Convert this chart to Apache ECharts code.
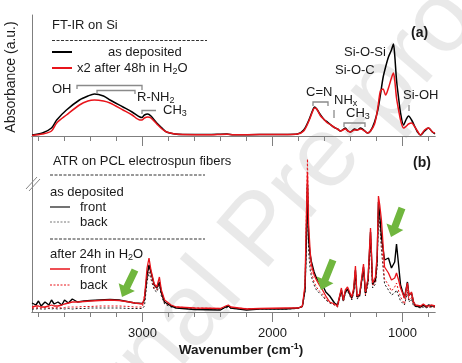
<!DOCTYPE html>
<html><head><meta charset="utf-8">
<script src="https://cdn.jsdelivr.net/npm/echarts@6/dist/echarts.min.js"></script>
<style>html,body{margin:0;padding:0;background:#fff}#c{width:462px;height:363px}</style>
</head><body><div id="c"></div>
<script>
// ---------- Panel (a): FT-IR on Si ----------
const wnA = [3850,3770,3700,3660,3585,3485,3420,3370,3300,3250,3150,3080,3020,3005,2985,2960,2935,2890,2850,2815,2750,2690,2500,2350,2300,2100,1900,1808,1760,1720,1690,1677,1660,1630,1600,1577,1550,1530,1500,1477,1440,1420,1400,1370,1350,1323,1290,1270,1246,1215,1190,1170,1150,1130,1108,1085,1070,1060,1046,1030,1015,992,970,954,930,900,885,862,830,800,770,750];
const ftirAsDeposited = [0.01,0.03,0.08,0.16,0.26,0.36,0.40,0.42,0.40,0.36,0.29,0.24,0.19,0.185,0.21,0.22,0.20,0.13,0.08,0.04,0.02,0.015,0.015,0.02,0.012,0.015,0.016,0.02,0.06,0.16,0.26,0.29,0.27,0.21,0.16,0.14,0.11,0.09,0.07,0.05,0.08,0.05,0.04,0.07,0.06,0.08,0.05,0.03,0.05,0.14,0.26,0.41,0.58,0.69,0.79,0.86,0.92,0.81,0.56,0.38,0.23,0.11,0.17,0.20,0.16,0.08,0.04,0.01,0.05,0.08,0.04,0.02];
const ftirAfter48h = [0.005,0.02,0.05,0.13,0.21,0.31,0.35,0.36,0.35,0.33,0.26,0.21,0.16,0.16,0.18,0.19,0.18,0.12,0.07,0.04,0.02,0.015,0.012,0.018,0.012,0.014,0.015,0.02,0.05,0.15,0.25,0.28,0.27,0.20,0.16,0.13,0.11,0.09,0.07,0.05,0.07,0.05,0.04,0.06,0.06,0.07,0.05,0.03,0.05,0.12,0.28,0.45,0.47,0.41,0.48,0.58,0.63,0.56,0.38,0.26,0.16,0.08,0.10,0.12,0.13,0.08,0.05,0.01,0.06,0.08,0.04,0.03];

// ---------- Panel (b): ATR on PCL electrospun fibers ----------
const wnB = [3850,3820,3800,3780,3750,3720,3700,3680,3650,3620,3600,3570,3540,3500,3450,3400,3330,3250,3180,3100,3060,3000,2985,2965,2950,2935,2910,2890,2870,2855,2830,2780,2740,2600,2400,2360,2340,2320,2200,2100,1900,1800,1770,1750,1740,1731,1722,1710,1700,1680,1662,1640,1615,1590,1560,1545,1523,1500,1485,1470,1455,1440,1423,1408,1390,1375,1362,1350,1330,1300,1285,1265,1246,1230,1208,1195,1185,1175,1162,1138,1108,1085,1060,1046,1030,1015,985,962,950,931,915,900,860,840,820,800,780,750];
const atrFrontAsDep = [0.09,0.07,0.11,0.06,0.10,0.07,0.12,0.08,0.10,0.07,0.12,0.09,0.13,0.10,0.11,0.115,0.12,0.125,0.12,0.10,0.09,0.085,0.12,0.37,0.47,0.40,0.27,0.24,0.30,0.20,0.10,0.06,0.04,0.025,0.02,0.05,0.06,0.04,0.02,0.03,0.03,0.04,0.06,0.22,0.72,1.27,0.72,0.57,0.50,0.40,0.34,0.30,0.27,0.20,0.16,0.14,0.09,0.07,0.05,0.22,0.12,0.20,0.23,0.25,0.14,0.22,0.42,0.15,0.17,0.45,0.19,0.32,0.80,0.28,0.32,0.52,1.10,0.97,0.75,0.52,0.54,0.44,0.50,0.68,0.47,0.27,0.14,0.30,0.17,0.19,0.10,0.06,0.05,0.07,0.05,0.07,0.06,0.06];
const atrBackAsDep = [0.03,0.03,0.035,0.03,0.03,0.035,0.03,0.035,0.03,0.035,0.03,0.035,0.03,0.035,0.035,0.04,0.04,0.04,0.04,0.035,0.035,0.035,0.06,0.30,0.40,0.33,0.22,0.20,0.27,0.16,0.08,0.05,0.04,0.03,0.03,0.04,0.05,0.035,0.03,0.03,0.03,0.035,0.05,0.20,0.60,1.05,0.60,0.42,0.35,0.27,0.22,0.19,0.16,0.12,0.09,0.08,0.07,0.05,0.04,0.20,0.10,0.19,0.21,0.23,0.12,0.20,0.40,0.13,0.15,0.42,0.16,0.29,0.72,0.24,0.28,0.45,0.98,0.88,0.62,0.28,0.22,0.17,0.19,0.22,0.16,0.11,0.07,0.20,0.10,0.13,0.06,0.04,0.04,0.05,0.04,0.05,0.05,0.05];
const atrFrontAfter = [0.05,0.06,0.06,0.05,0.05,0.06,0.07,0.06,0.06,0.07,0.08,0.09,0.10,0.10,0.105,0.11,0.115,0.12,0.115,0.10,0.09,0.08,0.14,0.44,0.54,0.42,0.28,0.25,0.35,0.22,0.12,0.07,0.05,0.04,0.035,0.06,0.07,0.05,0.03,0.035,0.04,0.04,0.06,0.27,0.92,1.40,0.87,0.60,0.47,0.37,0.32,0.27,0.22,0.16,0.10,0.09,0.08,0.06,0.05,0.24,0.12,0.22,0.25,0.27,0.15,0.24,0.46,0.16,0.18,0.48,0.20,0.34,0.84,0.29,0.35,0.57,1.16,1.07,0.92,0.45,0.39,0.32,0.34,0.39,0.32,0.24,0.14,0.29,0.16,0.20,0.10,0.07,0.06,0.08,0.06,0.06,0.07,0.06];
const atrBackAfter = [0.04,0.04,0.045,0.04,0.045,0.04,0.045,0.04,0.045,0.04,0.045,0.05,0.05,0.05,0.055,0.055,0.06,0.06,0.06,0.055,0.05,0.05,0.07,0.33,0.45,0.36,0.24,0.22,0.30,0.18,0.09,0.06,0.05,0.04,0.035,0.05,0.06,0.04,0.035,0.035,0.035,0.04,0.05,0.25,0.95,1.53,0.80,0.50,0.40,0.30,0.25,0.21,0.18,0.13,0.10,0.09,0.07,0.05,0.04,0.21,0.11,0.20,0.22,0.24,0.13,0.21,0.42,0.14,0.16,0.44,0.17,0.30,0.76,0.26,0.30,0.49,1.02,0.92,0.70,0.33,0.27,0.21,0.25,0.29,0.21,0.15,0.08,0.22,0.12,0.15,0.07,0.05,0.05,0.06,0.05,0.05,0.05,0.05];

const minorTicks = [3800,3600,3400,3200,3000,2800,2600,2400,2200,2000,1800,1600,1400,1200,1000,800];
const majorTicks = [3000,2000,1000];

const AX = '#7f7f7f', TXT = '#1a1a1a', GREEN = '#70b63e', FONT = 'Liberation Sans, Arial, sans-serif';

function pairs(wn, v){ return wn.map((w,i)=>[w, v[i]]); }
function xAx(grid, ticks, len, labels){
  return {type:'value', gridIndex:grid, position:'bottom', inverse:true, min:750, max:3850,
    axisLine:{show:true, onZero:false, lineStyle:{color:AX, width:1}},
    axisTick:{show:true, inside:false, length:len, customValues:ticks, lineStyle:{color:AX, width:1}},
    axisLabel:{show:labels, customValues:ticks, margin:15, fontSize:13, color:TXT, fontFamily:FONT,
      formatter:function(v){ return String(v); }},
    splitLine:{show:false}};
}
function yAx(grid, max){
  return {type:'value', gridIndex:grid, min:0, max:max,
    axisLine:{show:true, onZero:false, lineStyle:{color:AX, width:1}},
    axisTick:{show:false}, axisLabel:{show:false}, splitLine:{show:false}};
}
function ser(xi, yi, data, color, width, type, z, smooth){
  return {type:'line', xAxisIndex:xi, yAxisIndex:yi, data:data, showSymbol:false, symbol:'none', silent:true,
    smooth:smooth||false, lineStyle:{color:color, width:width, type:type}, z:z};
}
function txt(x, y, text, opts){
  opts = opts || {};
  const st = {text:text, fontSize:opts.size||13, fontFamily:FONT, fill:opts.fill||TXT, fontWeight:opts.weight||'normal',
    align:opts.align||'left', verticalAlign:'middle'};
  return {type:'text', x:x, y:y, rotation:opts.rot||0, z:100, style:st};
}
function ln(x1,y1,x2,y2,color,width,dash){
  return {type:'line', z:100, shape:{x1:x1,y1:y1,x2:x2,y2:y2}, style:{stroke:color, lineWidth:width||1, lineDash:dash||null}};
}
function pl(points,color,width){
  return {type:'polyline', z:100, shape:{points:points}, style:{stroke:color, lineWidth:width||1, fill:null}};
}
function arrow(tipX, tipY, tailX, tailY){
  const dx = tipX-tailX, dy = tipY-tailY, L = Math.hypot(dx,dy), ux = dx/L, uy = dy/L, px = -uy, py = ux;
  const hw = 3.6, hh = 9, hl = 11, bx = tipX-ux*hl, by = tipY-uy*hl;
  return {type:'polygon', z:90, shape:{points:[
    [tailX+px*hw, tailY+py*hw],[bx+px*hw, by+py*hw],[bx+px*hh, by+py*hh],[tipX,tipY],
    [bx-px*hh, by-py*hh],[bx-px*hw, by-py*hw],[tailX-px*hw, tailY-py*hw]]}, style:{fill:GREEN}};
}
function rich(x, y, text, r){
  return {type:'text', x:x, y:y, z:100, style:{text:text, rich:r, align:'left', verticalAlign:'middle'}};
}
const sub = {a:{fontSize:13, lineHeight:16, fontFamily:FONT, fill:TXT}, s:{fontSize:9, lineHeight:9, verticalAlign:'bottom', fontFamily:FONT, fill:TXT}};
const sup = {a:{fontSize:13.5, lineHeight:16, fontWeight:'bold', fontFamily:FONT, fill:TXT}, s:{fontSize:9, lineHeight:9, verticalAlign:'top', fontWeight:'bold', fontFamily:FONT, fill:TXT}};
const BR = '#8a8a8a';

const chart = echarts.init(document.getElementById('c'), null, {renderer:'canvas'});
chart.setOption({
  animation:false,
  backgroundColor:'#fff',
  grid:[{left:32, right:27, top:15, height:121}, {left:32, right:27, top:136, height:176}],
  xAxis:[xAx(0, minorTicks, 5, false), xAx(0, majorTicks, 10, false), xAx(1, minorTicks, 5, false), xAx(1, majorTicks, 10, true)],
  yAxis:[yAx(0, 1.21), yAx(1, 1.76)],
  series:[
    ser(0,0,pairs(wnA, ftirAsDeposited), '#000', 1.5, 'solid', 3, 0.3),
    ser(0,0,pairs(wnA, ftirAfter48h), '#e8141b', 1.5, 'solid', 4, 0.3),
    ser(2,1,pairs(wnB, atrBackAsDep), '#222', 1, [2,2], 3),
    ser(2,1,pairs(wnB, atrBackAfter), '#e8141b', 1, [2,2], 3),
    ser(2,1,pairs(wnB, atrFrontAsDep), '#000', 1.4, 'solid', 4),
    ser(2,1,pairs(wnB, atrFrontAfter), '#e8141b', 1.3, 'solid', 5)
  ],
  graphic:[
    {type:'text', x:262, y:232, rotation:0.86, z:0, silent:true,
      style:{text:'Journal Pre-proof', fontSize:100, fontFamily:FONT, fill:'rgba(0,0,0,0.085)', align:'center', verticalAlign:'middle'}},
    txt(11, 77, 'Absorbance (a.u.)', {size:14, rot:Math.PI/2, align:'center'}),
    {type:'text', x:241, y:350, z:100, style:{text:'{a|Wavenumber (cm}{s|-1}{a|)}', rich:sup, align:'center', verticalAlign:'middle'}},
    // panel a legend
    txt(52, 25, 'FT-IR on Si'),
    ln(52, 40.5, 207, 40.5, '#333', 1, [3,1.5]),
    ln(52, 52, 72, 52, '#000', 2),
    txt(108, 52, 'as deposited'),
    ln(52, 68, 72, 68, '#e8141b', 2),
    rich(77, 68, '{a|x2 after 48h in H}{s|2}{a|O}', sub),
    txt(52, 89, 'OH'),
    pl([[77,89],[77,85.5],[142,85.5],[142,90]], BR, 1.3),
    pl([[97,94],[97,90.5],[135,90.5],[135,94]], BR, 1.3),
    rich(137, 97, '{a|R-NH}{s|2}', sub),
    pl([[142,114],[142,110.5],[156,110.5]], BR, 1.3),
    rich(163, 110, '{a|CH}{s|3}', sub),
    txt(411, 33, '(a)', {size:14, weight:'bold'}),
    txt(344, 52, 'Si-O-Si'),
    txt(335, 70, 'Si-O-C'),
    txt(306, 92, 'C=N'),
    pl([[313,106],[313,102],[328,102],[328,106]], BR, 1.3),
    rich(334, 100, '{a|NH}{s|x}', sub),
    ln(334, 110, 334, 118, BR, 1.3),
    rich(346, 113, '{a|CH}{s|3}', sub),
    pl([[344,127],[344,123],[365,123],[365,127]], BR, 1.3),
    txt(403, 95, 'Si-OH'),
    ln(409, 105, 409, 111, BR, 1.3),
    // panel b legend
    txt(53, 161, 'ATR on PCL electrospun fibers'),
    ln(50, 175, 205, 175, '#333', 1, [3,1.5]),
    txt(50, 192, 'as deposited'),
    ln(50, 207, 70, 207, '#444', 1.5),
    txt(80, 207, 'front'),
    ln(50, 222, 70, 222, '#777', 1, [2,1.5]),
    txt(80, 222, 'back'),
    ln(50, 239, 205, 239, '#333', 1, [3,1.5]),
    rich(50, 254, '{a|after 24h in H}{s|2}{a|O}', sub),
    ln(50, 269, 70, 269, '#e8141b', 1.5),
    txt(80, 269, 'front'),
    ln(50, 285, 70, 285, '#e8141b', 1, [2,1.5]),
    txt(80, 285, 'back'),
    txt(413, 163, '(b)', {size:14, weight:'bold'}),
    // axis break mark
    ln(26, 189, 37, 177, '#888', 1),
    ln(29, 191, 40, 179, '#888', 1),
    // green arrows
    arrow(122, 297, 135, 270),
    arrow(321, 290, 333, 260),
    arrow(391, 237, 402, 208)
  ]
});
</script></body></html>
